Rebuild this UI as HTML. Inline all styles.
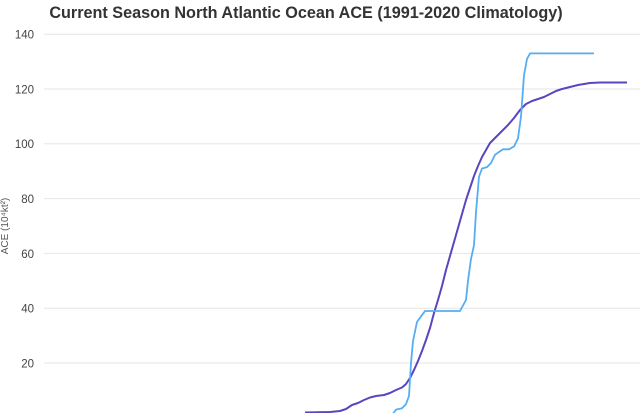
<!DOCTYPE html>
<html><head><meta charset="utf-8"><style>
html,body{margin:0;padding:0;background:#fff;width:640px;height:413px;overflow:hidden}
</style></head><body>
<svg width="640" height="413" viewBox="0 0 640 413" xmlns="http://www.w3.org/2000/svg" font-family="Liberation Sans, sans-serif">
<text x="306" y="18" text-anchor="middle" font-size="16.2" font-weight="bold" fill="#333">Current Season North Atlantic Ocean ACE (1991-2020 Climatology)</text>
<g stroke="#e6e6e6" stroke-width="1">
<line x1="44" x2="640" y1="34.2" y2="34.2"/>
<line x1="44" x2="640" y1="89" y2="89"/>
<line x1="44" x2="640" y1="143.8" y2="143.8"/>
<line x1="44" x2="640" y1="198.6" y2="198.6"/>
<line x1="44" x2="640" y1="253.4" y2="253.4"/>
<line x1="44" x2="640" y1="308.2" y2="308.2"/>
<line x1="44" x2="640" y1="363" y2="363"/>
</g>
<g font-size="11.5" fill="#444" text-anchor="end">
<text x="34" y="38.5">140</text>
<text x="34" y="93.5">120</text>
<text x="34" y="148">100</text>
<text x="34" y="203">80</text>
<text x="34" y="258">60</text>
<text x="34" y="312.5">40</text>
<text x="34" y="367.5">20</text>
</g>
<text transform="translate(8,226) rotate(-90)" text-anchor="middle" font-size="10" fill="#555">ACE (10⁴kt²)</text>
<polyline fill="none" stroke="#5a45c0" stroke-width="2" stroke-linejoin="round" points="305,412.5 330,412 340,411 346,409 352,405 358,403 364,400 370,397.5 376,396 384,395 390,393 396,390 402,387.5 406,384 410,378 414,370 418,361 422,351 426,340 430,328 434,313 438,300 442,286 446,270 450,256 454,242 458,228 462,214 466,200 470,188 474,176 478,166 482,157 486,150 490,143 496,137 502,131 508,125 514,118 520,110 526,104 532,101 538,99 544,97 550,94 556,91 562,89 570,87 578,85 590,83 600,82.5 627,82.5"/>
<polyline fill="none" stroke="#56adf2" stroke-width="1.8" stroke-linejoin="round" points="388,416 392,415 396,409.6 402,408.2 406,404.1 409,395.9 411,363 413,341.1 417,321.9 420,317.8 425,311 440,311 460,311 466,300 468,280.8 471,258.9 474,245.2 476,212.3 479,176.7 482,168.5 487,167.1 491,163 495,154.8 499,152 503,149.3 509,149.3 514,146.5 518,138.3 521,116.4 524,75.3 527,58.9 530,53.4 594,53.4"/>
</svg>
</body></html>
